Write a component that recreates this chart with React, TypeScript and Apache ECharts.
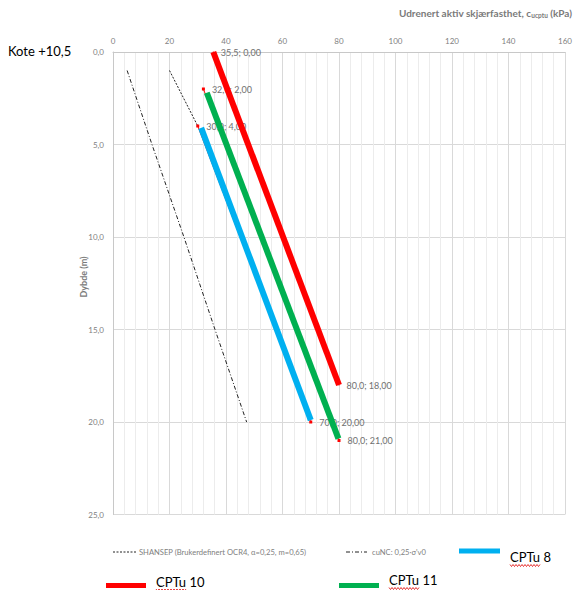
import React, { useEffect, useRef } from "react";
import * as echarts from "echarts";

// ---- data (x = undrained shear strength kPa, y = depth m) ----
const xTicks = [0, 20, 40, 60, 80, 100, 120, 140, 160];
const depthTicks = [0, 5, 10, 15, 20, 25];

const cuNcX = [5, 13.8, 25.1, 36.1, 47.3];
const cuNcDepth = [1, 5, 10, 15, 20];

const shansepX = [20, 30];
const shansepDepth = [1, 4];

const cptu10X = [35.5, 80];
const cptu10Depth = [0, 18];

const cptu11RefX = [32, 80];
const cptu11RefDepth = [2, 21];
const cptu11X = [33.2, 79.8];
const cptu11Depth = [2.2, 20.9];

const cptu8RefX = [30, 70];
const cptu8RefDepth = [4, 20];
const cptu8X = [31.2, 70];
const cptu8Depth = [4.1, 19.9];

const pairs = (xs: number[], ys: number[]) => xs.map((x, i) => [x, ys[i]]);
const fmtPoint = (v: number[]) =>
  v[0].toFixed(1).replace(".", ",") + "; " + v[1].toFixed(2).replace(".", ",");

const FONT = "Lato, 'Open Sans', sans-serif";
const GRAY = "#7f7f7f";

function squiggle(x0: number, x1: number, y: number) {
  const pts: number[][] = [];
  let up = true;
  for (let x = x0; x <= x1; x += 1.5) {
    pts.push([x, up ? y - 1 : y + 1]);
    up = !up;
  }
  return pts;
}

export default function App() {
  const ref = useRef<HTMLDivElement>(null);
  useEffect(() => {
    if (!ref.current) return;
    const chart = echarts.init(ref.current, null, { renderer: "svg" });
    const labelStyle = {
      show: true,
      position: "right" as const,
      distance: 7,
      fontSize: 9,
      fontFamily: FONT,
      color: "#707070",
      formatter: (p: any) => fmtPoint(p.value),
    };
    chart.setOption({
      animation: false,
      backgroundColor: "#ffffff",
      grid: { left: 113, top: 52, right: 10, bottom: 75.5, containLabel: false },
      xAxis: {
        type: "value",
        position: "top",
        min: xTicks[0],
        max: xTicks[xTicks.length - 1],
        interval: xTicks[1] - xTicks[0],
        axisLine: { show: true, lineStyle: { color: "#c8c8c8", width: 1 } },
        axisTick: { show: false },
        axisLabel: { fontSize: 8, color: GRAY, fontFamily: FONT, margin: 7 },
        splitLine: { show: true, lineStyle: { color: "#d9d9d9", width: 1 } },
        minorTick: { show: false, splitNumber: 5 },
        minorSplitLine: { show: true, lineStyle: { color: "#ececec", width: 1 } },
      },
      yAxis: {
        type: "value",
        inverse: true,
        min: depthTicks[0],
        max: depthTicks[depthTicks.length - 1],
        interval: depthTicks[1] - depthTicks[0],
        axisLine: { show: true, lineStyle: { color: "#c8c8c8", width: 1 } },
        axisTick: { show: false },
        axisLabel: {
          fontSize: 8,
          color: GRAY,
          fontFamily: FONT,
          margin: 9,
          formatter: (v: number) => v.toFixed(1).replace(".", ","),
        },
        splitLine: { show: true, lineStyle: { color: "#d9d9d9", width: 1 } },
      },
      series: [
        {
          name: "cuNC: 0,25·σ'v0",
          type: "line",
          data: pairs(cuNcX, cuNcDepth),
          showSymbol: false,
          lineStyle: { color: "#222222", width: 1, type: [4, 2, 1, 2] },
          z: 2,
        },
        {
          name: "SHANSEP (Brukerdefinert OCR4, α=0,25, m=0,65)",
          type: "line",
          data: pairs(shansepX, shansepDepth),
          showSymbol: false,
          lineStyle: { color: "#222222", width: 1, type: [2, 1.5] },
          z: 2,
        },
        {
          name: "CPTu 11 ref",
          type: "line",
          data: pairs(cptu11RefX, cptu11RefDepth),
          symbol: "rect",
          symbolSize: 3,
          itemStyle: { color: "#ff0000" },
          lineStyle: { color: "#ff0000", width: 1 },
          label: labelStyle,
          z: 3,
        },
        {
          name: "CPTu 8 ref",
          type: "line",
          data: pairs(cptu8RefX, cptu8RefDepth),
          symbol: "rect",
          symbolSize: 3,
          itemStyle: { color: "#ff0000" },
          lineStyle: { color: "#ff0000", width: 1 },
          label: labelStyle,
          z: 3,
        },
        {
          name: "CPTu 10",
          type: "line",
          data: pairs(cptu10X, cptu10Depth),
          showSymbol: true,
          symbol: "rect",
          symbolSize: 1,
          itemStyle: { color: "#ff0000" },
          lineStyle: { color: "#ff0000", width: 6 },
          label: labelStyle,
          z: 4,
        },
        {
          name: "CPTu 11",
          type: "line",
          data: pairs(cptu11X, cptu11Depth),
          showSymbol: false,
          lineStyle: { color: "#00b050", width: 6 },
          z: 4,
        },
        {
          name: "CPTu 8",
          type: "line",
          data: pairs(cptu8X, cptu8Depth),
          showSymbol: false,
          lineStyle: { color: "#00b0f0", width: 6 },
          z: 4,
        },
      ],
      graphic: [
        {
          type: "text",
          left: 8,
          top: 44,
          style: { text: "Kote +10,5", fontSize: 13, fontFamily: FONT, fill: "#000000" },
        },
        {
          type: "text",
          right: 3,
          top: 8,
          style: {
            text: "{a|Udrenert aktiv skjærfasthet, c}{s|ucptu}{a| (kPa)}",
            rich: {
              a: { fontSize: 10, fontWeight: "bold", fontFamily: FONT, fill: "#7a7a7a" },
              s: { fontSize: 6.5, fontWeight: "bold", fontFamily: FONT, fill: "#7a7a7a", padding: [4, 0, 0, 0] },
            },
          },
        },
        {
          type: "text",
          x: 83,
          y: 277,
          rotation: Math.PI / 2,
          style: {
            text: "Dybde (m)",
            fontSize: 9,
            fontWeight: "bold",
            fontFamily: FONT,
            fill: "#7a7a7a",
            align: "center",
            verticalAlign: "middle",
          },
        },
        // legend row 1
        {
          type: "line",
          shape: { x1: 113, y1: 552, x2: 136, y2: 552 },
          style: { stroke: "#222222", lineWidth: 1, lineDash: [2, 1.5] },
        },
        {
          type: "text",
          x: 139,
          y: 552,
          style: {
            text: "SHANSEP (Brukerdefinert OCR4, α=0,25, m=0,65)",
            fontSize: 7.6,
            fontFamily: FONT,
            fill: "#808080",
            verticalAlign: "middle",
          },
        },
        {
          type: "line",
          shape: { x1: 346, y1: 552, x2: 367, y2: 552 },
          style: { stroke: "#222222", lineWidth: 1, lineDash: [4, 2, 1, 2] },
        },
        {
          type: "text",
          x: 372,
          y: 552,
          style: {
            text: "cuNC: 0,25·σ'v0",
            fontSize: 7.6,
            fontFamily: FONT,
            fill: "#808080",
            verticalAlign: "middle",
          },
        },
        {
          type: "rect",
          shape: { x: 459, y: 548.5, width: 41, height: 5 },
          style: { fill: "#00b0f0" },
        },
        {
          type: "text",
          x: 510,
          y: 557,
          style: { text: "CPTu 8", fontSize: 13, fontFamily: FONT, fill: "#000000", verticalAlign: "middle" },
        },
        {
          type: "polyline",
          shape: { points: squiggle(510, 540, 565.5) },
          style: { stroke: "#e00000", lineWidth: 0.8, fill: null },
        },
        // legend row 2
        {
          type: "rect",
          shape: { x: 106, y: 583, width: 40, height: 5 },
          style: { fill: "#ff0000" },
        },
        {
          type: "text",
          x: 156,
          y: 582,
          style: { text: "CPTu 10", fontSize: 13, fontFamily: FONT, fill: "#000000", verticalAlign: "middle" },
        },
        {
          type: "polyline",
          shape: { points: squiggle(156, 186, 590) },
          style: { stroke: "#e00000", lineWidth: 0.8, fill: null },
        },
        {
          type: "rect",
          shape: { x: 339, y: 583, width: 40, height: 5 },
          style: { fill: "#00b050" },
        },
        {
          type: "text",
          x: 389,
          y: 580,
          style: { text: "CPTu 11", fontSize: 13, fontFamily: FONT, fill: "#000000", verticalAlign: "middle" },
        },
        {
          type: "polyline",
          shape: { points: squiggle(389, 419, 588.5) },
          style: { stroke: "#e00000", lineWidth: 0.8, fill: null },
        },
      ],
    });
    return () => chart.dispose();
  }, []);
  return <div ref={ref} style={{ width: 575, height: 590, position: "absolute", left: 0, top: 0 }} />;
}
